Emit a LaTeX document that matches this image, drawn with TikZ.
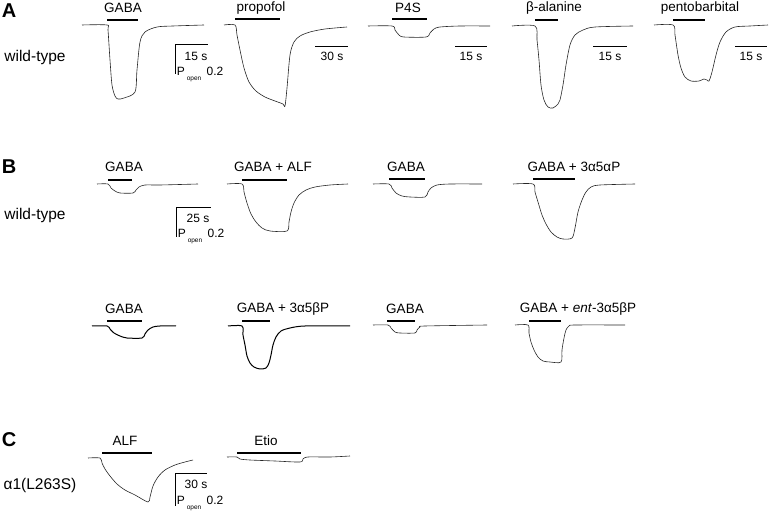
\documentclass[tikz,border=0pt]{standalone}
\usepackage{fontspec}
\setmainfont{Liberation Sans}
\tikzset{
  trace/.style={line width=0.6pt, black!85, line join=round},
  noisy/.style={line width=1pt, black, line join=round},
  stim/.style={line width=1.1pt},
  sbar/.style={line width=0.8pt},
  lbl/.style={inner sep=0pt, font=\fontsize{13.5}{15}\selectfont},
  rowlbl/.style={inner sep=0pt, font=\fontsize{15.5}{17}\selectfont},
  panel/.style={inner sep=0pt, font=\fontsize{20}{22}\selectfont\bfseries},
  sblbl/.style={inner sep=0pt, font=\fontsize{12}{13}\selectfont},
  sbsub/.style={inner sep=0pt, font=\fontsize{6.5}{7}\selectfont}
}
\begin{document}
\begin{tikzpicture}[x=1pt, y=-1pt]
\useasboundingbox (0,0) rectangle (777,513);
% panel A
\node[panel] (pA) at (9,11) {A};
\node[rowlbl] (wtA) at (35,57) {wild-type};
\node[lbl] (gabaA) at (123,8) {GABA};
\node[lbl] (propA) at (261,8) {propofol};
\node[lbl] (pfsA) at (408,8) {P4S};
\node[lbl] (balaA) at (554,8) {β-alanine};
\node[lbl] (pentA) at (700,8) {pentobarbital};
\draw[stim] (107,20) -- (138,20);
\draw[stim] (235,19) -- (280,19);
\draw[stim] (392,19) -- (427,19);
\draw[stim] (535,20) -- (558,20);
\draw[stim] (673,20) -- (705,20);
\draw[trace] plot[smooth, tension=0.5] coordinates {(82,25) (107,25) (108,30) (110,60) (112,85) (115,96) (118,99) (124,98) (135,92) (137,70) (140,42) (145,32) (157,27) (173,26) (204,25)};
\draw[trace] plot[smooth, tension=0.5] coordinates {(224,25) (235,25) (237,35) (240,50) (244,68) (249,82) (256,91) (265,97) (275,101) (283,104) (285,106) (287,88) (290,55) (294,42) (300,36) (310,32) (325,29) (347,27)};
\draw[trace] plot[smooth, tension=0.5] coordinates {(368,26) (392,26) (395,30) (399,35) (404,37) (426,37) (430,33) (434,29) (440,27) (460,26) (490,26)};
\draw[trace] plot[smooth, tension=0.5] coordinates {(512,26) (535,26) (537,40) (539,60) (541,85) (544,100) (548,107) (553,108) (558,104) (560,100) (563,85) (566,65) (570,45) (575,35) (583,30) (595,27) (633,26)};
\draw[trace] plot[smooth, tension=0.5] coordinates {(654,25) (673,25) (675,35) (678,55) (681,68) (685,77) (691,81) (699,81) (704,79) (707,80) (709,81) (712,72) (716,55) (720,42) (726,32) (735,27) (750,26) (768,25)};
% scale bars A
\draw[sbar] (175,74) -- (175,44) -- (208,44);
\node[sblbl] (tA) at (196,56) {15 s};
\node[sblbl] (pA1) at (181,71) {P};
\node[sbsub] (oA) at (194,79) {open};
\node[sblbl] (vA) at (215,71) {0.2};
\draw[sbar] (315,46) -- (348,46);
\node[sblbl] (tA2) at (332,56) {30 s};
\draw[sbar] (455,46) -- (487,46);
\node[sblbl] (tA3) at (471,56) {15 s};
\draw[sbar] (593,46) -- (627,46);
\node[sblbl] (tA4) at (610,56) {15 s};
\draw[sbar] (735,46) -- (767,46);
\node[sblbl] (tA5) at (751,56) {15 s};
% panel B
\node[panel] (pB) at (9,167) {B};
\node[rowlbl] (wtB) at (35,215) {wild-type};
\node[lbl] (gabaB1) at (124,167) {GABA};
\node[lbl] (alfB) at (273,167) {GABA + ALF};
\node[lbl] (gabaB2) at (406,167) {GABA};
\node[lbl] (aapB) at (574,167) {GABA + 3α5αP};
\draw[stim] (108,180) -- (132,180);
\draw[stim] (242,180) -- (287,180);
\draw[stim] (389,179) -- (425,179);
\draw[stim] (533,179) -- (575,179);
\draw[trace] plot[smooth, tension=0.5] coordinates {(97,184) (108,184) (111,188) (115,191) (120,193) (133,193) (136,190) (139,187) (145,185) (160,185) (198,184)};
\draw[trace] plot[smooth, tension=0.5] coordinates {(227,184) (242,184) (244,192) (247,203) (251,214) (256,222) (262,228) (270,231) (287,231) (289,222) (291,212) (294,203) (299,195) (306,190) (315,187) (330,185) (348,184)};
\draw[trace] plot[smooth, tension=0.5] coordinates {(373,184) (389,184) (392,188) (396,193) (402,196) (410,197) (425,197) (428,192) (431,188) (437,185) (450,184) (482,184)};
\draw[trace] plot[smooth, tension=0.5] coordinates {(513,184) (533,184) (535,192) (538,202) (542,215) (546,224) (551,232) (557,237) (563,239) (572,238) (575,228) (578,212) (582,200) (586,192) (591,187) (600,185) (635,184)};
\draw[sbar] (176,237) -- (176,207) -- (211,207);
\node[sblbl] (tB) at (198,218) {25 s};
\node[sblbl] (pB1) at (182,233) {P};
\node[sbsub] (oB) at (195,241) {open};
\node[sblbl] (vB) at (216,233) {0.2};
% second row of B
\node[lbl] (gabaB3) at (124,309) {GABA};
\node[lbl] (abpB) at (283,309) {GABA + 3α5βP};
\node[lbl] (gabaB4) at (405,309) {GABA};
\node[lbl] (entB) at (578,309) {GABA + \textit{ent}-3α5βP};
\draw[stim] (107,321) -- (142,321);
\draw[stim] (242,321) -- (270,321);
\draw[stim] (387,321) -- (415,321);
\draw[stim] (529,321) -- (561,321);
\draw[noisy] plot[smooth, tension=0.5] coordinates {(92,326) (107,326) (110,329) (114,333) (120,336) (127,338) (142,338) (145,334) (148,330) (153,327) (160,326) (176,326)};
\draw[noisy] plot[smooth, tension=0.5] coordinates {(228,326) (242,326) (243,335) (245,345) (247,356) (250,363) (254,367) (260,369) (266,368) (269,363) (271,355) (273,345) (276,337) (281,331) (290,328) (305,326) (350,326)};
\draw[trace] plot[smooth, tension=0.5] coordinates {(373,325) (388,325) (391,328) (395,332) (400,333) (415,333) (417,330) (420,327) (425,326) (487,325)};
\draw[trace] plot[smooth, tension=0.5] coordinates {(515,325) (528,325) (529,333) (531,342) (534,350) (538,357) (543,361) (550,362) (561,362) (562,350) (564,338) (566,330) (569,326) (575,325) (625,325)};
% panel C
\node[panel] (pC) at (9,440) {C};
\node[rowlbl] (mutC) at (40,485) {α1(L263S)};
\node[lbl] (alfC) at (125,441) {ALF};
\node[lbl] (etioC) at (266,441) {Etio};
\draw[stim] (102,453) -- (152,453);
\draw[stim] (237,453) -- (301,453);
\draw[trace] plot[smooth, tension=0.5] coordinates {(88,458) (100,458) (102,463) (105,469) (110,476) (117,484) (125,490) (135,495) (148,502) (150,497) (153,486) (158,477) (165,470) (175,465) (185,462) (193,460)};
\draw[trace] plot[smooth, tension=0.5] coordinates {(227,457) (237,457) (240,459) (250,460) (275,461) (300,462) (303,459) (308,457) (330,457) (350,456)};
\draw[sbar] (175,506) -- (175,473) -- (207,473);
\node[sblbl] (tC) at (196,484) {30 s};
\node[sblbl] (pC1) at (181,500) {P};
\node[sbsub] (oC) at (194,508) {open};
\node[sblbl] (vC) at (215,500) {0.2};
\end{tikzpicture}
\end{document}
